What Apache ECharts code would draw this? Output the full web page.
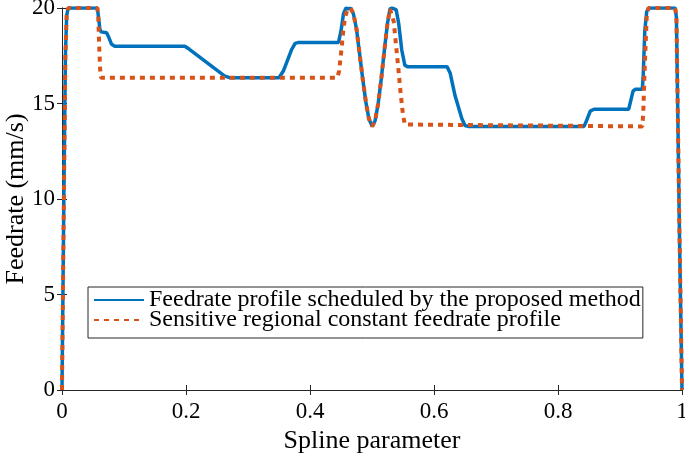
<!DOCTYPE html>
<html>
<head>
<meta charset="utf-8">
<script src="https://cdn.jsdelivr.net/npm/echarts@6/dist/echarts.min.js"></script>
<style>html,body{margin:0;padding:0;background:#fff}#c{width:685px;height:457px}</style>
</head>
<body>
<div id="c"></div>
<script>
// ---- data ----
const seriesNames = ['Feedrate profile scheduled by the proposed method', 'Sensitive regional constant feedrate profile'];
const xTickLabels = ['0', '0.2', '0.4', '0.6', '0.8', '1'];
const yTickLabels = ['0', '5', '10', '15', '20'];

const blueT = [0, 0.003, 0.0055, 0.0075, 0.010, 0.057, 0.059, 0.061, 0.063, 0.072, 0.075, 0.080, 0.085,
  0.198, 0.205, 0.262, 0.270, 0.350, 0.357, 0.370, 0.376, 0.382, 0.446, 0.450, 0.454, 0.458, 0.4620, 0.4655,
  0.4700, 0.4750, 0.4800, 0.4850, 0.4900, 0.4950, 0.5003, 0.5050, 0.5100, 0.5150, 0.5200, 0.5250, 0.5290,
  0.5330, 0.5390, 0.5430, 0.5480, 0.5530, 0.5570, 0.621, 0.626, 0.634, 0.645, 0.650, 0.655, 0.842, 0.846,
  0.852, 0.858, 0.914, 0.917, 0.921, 0.925, 0.936, 0.9375, 0.940, 0.943, 0.946, 0.989, 0.991, 0.993, 0.996, 1.0];
const blueV = [0, 10, 17.5, 19.6, 20, 20, 19.5, 18.9, 18.75, 18.7, 18.5, 18.1, 18.0,
  18.0, 17.85, 16.45, 16.35, 16.35, 16.7, 17.8, 18.15, 18.2, 18.2, 18.8, 19.7, 20, 19.95, 20,
  19.7, 18.9, 17.6, 16.3, 15.1, 14.2, 13.8, 14.1, 15.0, 16.3, 17.8, 19.2, 19.95,
  20, 19.9, 19.2, 17.8, 17.0, 16.93, 16.93, 16.6, 15.4, 14.2, 13.85, 13.8, 13.8, 14.1,
  14.6, 14.7, 14.7, 15.1, 15.65, 15.75, 15.75, 16.5, 18.8, 19.8, 20, 20, 19.5, 15, 8, 0];

const orangeT = [0, 0.003, 0.0055, 0.0075, 0.010, 0.057, 0.0585, 0.060, 0.0615, 0.063, 0.444, 0.447, 0.450,
  0.453, 0.456, 0.460, 0.4655, 0.4700, 0.4750, 0.4800, 0.4850, 0.4900, 0.4950, 0.5003, 0.5050, 0.5100,
  0.5150, 0.5200, 0.5250, 0.5290, 0.532, 0.535, 0.538, 0.542, 0.546, 0.550, 0.553, 0.556, 0.936, 0.9375,
  0.940, 0.943, 0.946, 0.989, 0.991, 0.993, 0.996, 1.0];
const orangeV = [0, 10, 17.5, 19.6, 20, 20, 19.5, 18.0, 16.8, 16.35, 16.35, 16.7, 17.6,
  18.6, 19.4, 19.9, 20, 19.7, 18.9, 17.6, 16.3, 15.1, 14.2, 13.8, 14.1, 15.0,
  16.3, 17.8, 19.2, 19.95, 19.9, 19.3, 18.3, 17.0, 15.6, 14.4, 13.9, 13.8, 13.8, 14.5,
  17.0, 19.5, 20, 20, 19.5, 15, 8, 0];

// ---- chart ----
const FONT = 'Liberation Serif';
const blueData = blueT.map((t, i) => [t, blueV[i]]);
const orangeData = orangeT.map((t, i) => [t, orangeV[i]]);
const axisLine = { show: true, lineStyle: { color: '#262626', width: 1 } };
const axisTick = { show: true, inside: true, length: 5, lineStyle: { color: '#262626', width: 1 } };

const chart = echarts.init(document.getElementById('c'), null, { renderer: 'canvas' });
chart.setOption({
  animation: false,
  backgroundColor: '#fff',
  grid: { left: 62, right: 3, top: 8, bottom: 67, containLabel: false, outerBoundsMode: 'none' },
  xAxis: [{
    type: 'value', min: 0, max: 1, interval: 0.2, position: 'bottom',
    name: 'Spline parameter', nameLocation: 'middle', nameGap: 36,
    nameTextStyle: { fontFamily: FONT, fontSize: 26, color: '#000' },
    axisLine, axisTick, splitLine: { show: false },
    axisLabel: { fontFamily: FONT, fontSize: 23, color: '#000', margin: 10,
      formatter: (v) => xTickLabels[Math.round(v / 0.2)] }
  }, {
    type: 'value', min: 0, max: 1, interval: 0.2, position: 'top',
    axisLine, axisTick, splitLine: { show: false }, axisLabel: { show: false }
  }],
  yAxis: [{
    type: 'value', min: 0, max: 20, interval: 5, position: 'left',
    name: 'Feedrate (mm/s)', nameLocation: 'middle', nameGap: 33, nameMoveOverlap: false,
    nameTextStyle: { fontFamily: FONT, fontSize: 26, color: '#000' },
    axisLine, axisTick, splitLine: { show: false },
    axisLabel: { fontFamily: FONT, fontSize: 23, color: '#000', margin: 7,
      formatter: (v) => yTickLabels[Math.round(v / 5)] }
  }, {
    type: 'value', min: 0, max: 20, interval: 5, position: 'right',
    axisLine, axisTick, splitLine: { show: false }, axisLabel: { show: false }
  }],
  legend: {
    left: 88, top: 287, orient: 'vertical',
    backgroundColor: '#fff', borderColor: '#262626', borderWidth: 1, borderRadius: 0,
    padding: [1, 2, 6, 5], itemWidth: 50, itemHeight: 14, itemGap: -4,
    itemStyle: { opacity: 0 },
    textStyle: { fontFamily: FONT, fontSize: 24, color: '#000', lineHeight: 21, padding: [0, 0, 0, 0] },
    data: [seriesNames[0], seriesNames[1]]
  },
  series: [{
    name: seriesNames[0], type: 'line', data: blueData, showSymbol: false, symbol: 'none',
    lineStyle: { color: '#0072BD', width: 3.5 }, itemStyle: { color: '#0072BD' }, z: 2
  }, {
    name: seriesNames[1], type: 'line', data: orangeData, showSymbol: false, symbol: 'none',
    lineStyle: { color: '#D95319', width: 4, type: [5, 5], cap: 'butt' }, itemStyle: { color: '#D95319' }, z: 3
  }]
});
</script>
</body>
</html>
